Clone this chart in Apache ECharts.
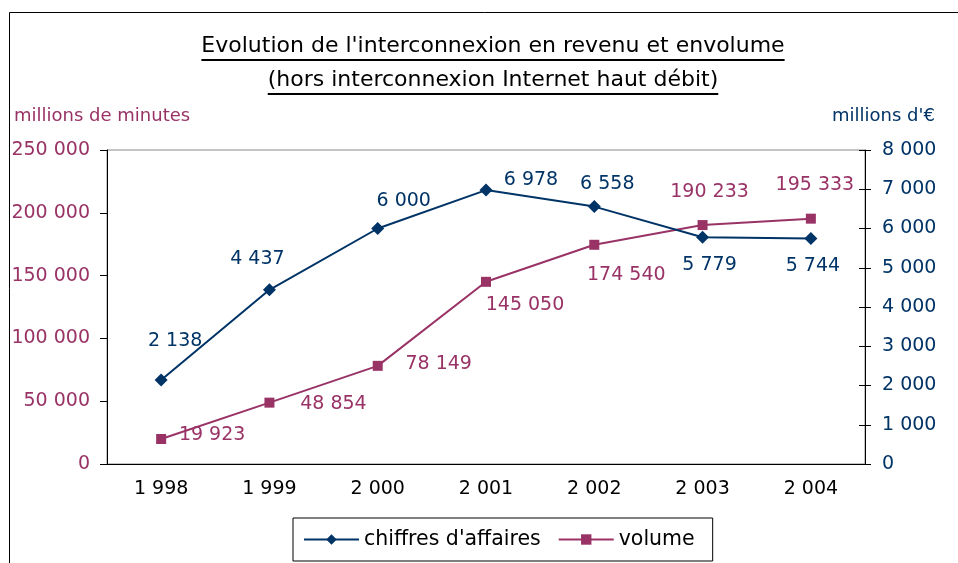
<!DOCTYPE html>
<html>
<head>
<meta charset="utf-8">
<script src="https://cdn.jsdelivr.net/npm/echarts@6/dist/echarts.min.js"></script>
<style>
  html, body { margin: 0; padding: 0; background: #fff; }
  #main { width: 958px; height: 563px; }
</style>
</head>
<body>
<div id="main"></div>
<script>
var years = ['1 998', '1 999', '2 000', '2 001', '2 002', '2 003', '2 004'];
var chiffres = [2138, 4437, 6000, 6978, 6558, 5779, 5744];
var volume = [19923, 48854, 78149, 145050, 174540, 190233, 195333];
var leftTicks = { min: 0, max: 250000, interval: 50000 };
var rightTicks = { min: 0, max: 8000, interval: 1000 };

// label placement, relative to each point
var chiffresOffsets = [[14, -39], [-12, -31], [26, -27], [45, -10], [13, -23], [7, 28], [2, 28]];
var volumeOffsets = [[51, -4], [64, 1], [61, -2], [39, 23], [32, 30], [7, -33], [4, -34]];

var FONT = 'DejaVu Sans';
var BLUE = '#003366';
var PURPLE = '#993366';

function fmt(v) {
    return String(v).replace(/\B(?=(\d{3})+(?!\d))/g, ' ');
}

function textWidth(str, size) {
    var ctx = document.createElement('canvas').getContext('2d');
    ctx.font = size + 'px "' + FONT + '"';
    return ctx.measureText(str).width;
}

function titleLine(str, cx, cy, underY) {
    var w = textWidth(str, 22);
    return [
        { type: 'text', left: cx - w / 2, top: cy - 13, style: { text: str, fill: '#000', font: '22px "' + FONT + '"' } },
        { type: 'line', shape: { x1: cx - w / 2, y1: underY, x2: cx + w / 2, y2: underY }, style: { stroke: '#000', lineWidth: 2 } }
    ];
}

var myChart = echarts.init(document.getElementById('main'));

var graphics = [
    { type: 'rect', shape: { x: 9.5, y: 12.5, width: 1200, height: 1200 }, style: { fill: null, stroke: '#000', lineWidth: 1 }, z: -1 },
    { type: 'text', left: 14, top: 107, style: { text: 'millions de minutes', fill: PURPLE, font: '18px "' + FONT + '"' } },
    { type: 'text', left: 832, top: 107, style: { text: "millions d'€", fill: BLUE, font: '18px "' + FONT + '"' } }
].concat(titleLine("Evolution de l'interconnexion en revenu et envolume", 493, 48, 60))
 .concat(titleLine('(hors interconnexion Internet haut débit)', 493, 82, 94));

var option = {
    animation: false,
    backgroundColor: '#fff',
    textStyle: { fontFamily: FONT },
    graphic: graphics,
    grid: {
        left: 107, right: 93, top: 150, bottom: 99,
        show: true, borderColor: '#888', borderWidth: 1
    },
    legend: {
        left: 293, top: 518,
        padding: [11, 18, 11, 10],
        itemWidth: 55, itemHeight: 13, itemGap: 17,
        borderColor: '#000', borderWidth: 1,
        textStyle: { fontFamily: FONT, fontSize: 20.5, color: '#000' },
        data: ["chiffres d'affaires", 'volume']
    },
    xAxis: {
        type: 'category',
        data: years,
        axisLine: { lineStyle: { color: '#000', width: 1 } },
        axisTick: { length: 5, lineStyle: { color: '#000' } },
        axisLabel: { color: '#000', fontSize: 19, fontFamily: FONT, margin: 16 }
    },
    yAxis: [
        {
            type: 'value', position: 'left',
            min: leftTicks.min, max: leftTicks.max, interval: leftTicks.interval,
            axisLine: { show: true, lineStyle: { color: '#000', width: 1 } },
            axisTick: { show: true, length: 7, lineStyle: { color: '#000' } },
            splitLine: { show: false },
            axisLabel: { color: PURPLE, fontSize: 19, fontFamily: FONT, margin: 17, formatter: fmt }
        },
        {
            type: 'value', position: 'right',
            min: rightTicks.min, max: rightTicks.max, interval: rightTicks.interval,
            axisLine: { show: true, lineStyle: { color: '#000', width: 1 } },
            axisTick: { show: true, length: 6, lineStyle: { color: '#000' } },
            splitLine: { show: false },
            axisLabel: { color: BLUE, fontSize: 19, fontFamily: FONT, margin: 17, formatter: fmt }
        },
        {
            // inner half of the crossing ticks on the right axis
            type: 'value', position: 'right',
            min: rightTicks.min, max: rightTicks.max, interval: rightTicks.interval,
            axisLine: { show: false },
            axisTick: { show: true, inside: true, length: 6, lineStyle: { color: '#000' } },
            splitLine: { show: false },
            axisLabel: { show: false }
        }
    ],
    series: [
        {
            name: "chiffres d'affaires",
            type: 'line',
            yAxisIndex: 1,
            symbol: 'diamond',
            symbolSize: 13,
            color: BLUE,
            lineStyle: { width: 2, color: BLUE },
            itemStyle: { color: BLUE },
            label: { show: true, position: 'inside', color: BLUE, fontSize: 19, fontFamily: FONT,
                     formatter: function (p) { return fmt(p.value); } },
            data: chiffres.map(function (v, i) { return { value: v, label: { offset: chiffresOffsets[i] } }; }),
            z: 3
        },
        {
            name: 'volume',
            type: 'line',
            yAxisIndex: 0,
            symbol: 'rect',
            symbolSize: 10,
            color: PURPLE,
            lineStyle: { width: 2, color: PURPLE },
            itemStyle: { color: PURPLE },
            label: { show: true, position: 'inside', color: PURPLE, fontSize: 19, fontFamily: FONT,
                     formatter: function (p) { return fmt(p.value); } },
            data: volume.map(function (v, i) { return { value: v, label: { offset: volumeOffsets[i] } }; }),
            z: 2
        }
    ]
};
myChart.setOption(option);
</script>
</body>
</html>
